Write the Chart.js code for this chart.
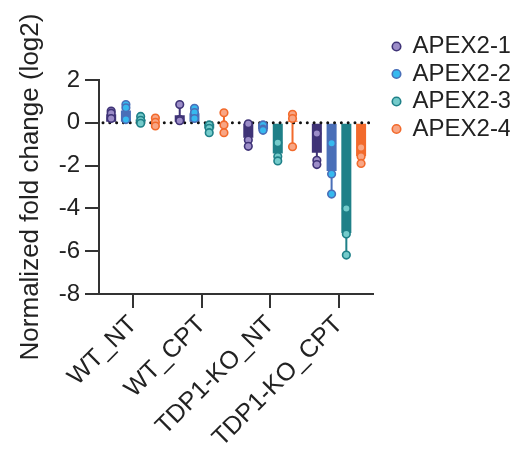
<!DOCTYPE html>
<html><head><meta charset="utf-8">
<script src="https://cdn.jsdelivr.net/npm/chart.js@4/dist/chart.umd.min.js"></script>
<style>html,body{margin:0;padding:0;background:#fff;}#wrap{width:517px;height:452px;}</style>
</head><body><div id="wrap"><canvas id="c" width="517" height="452"></canvas></div>
<script>
// ---- data ----
const categories = ['WT_NT', 'WT_CPT', 'TDP1-KO_NT', 'TDP1-KO_CPT'];
const seriesNames = ['APEX2-1', 'APEX2-2', 'APEX2-3', 'APEX2-4'];
const apex1Mean = [0.40, 0.35, -0.70, -1.40];
const apex2Mean = [0.57, 0.45, -0.30, -2.25];
const apex3Mean = [0.15, -0.27, -1.43, -5.15];
const apex4Mean = [0.05, -0.03, 0.10, -1.55];
const apex1Points = [[0.55, 0.45, 0.20], [0.85, 0.15, 0.10], [-0.05, -0.80, -1.10], [-0.50, -1.75, -1.95]];
const apex2Points = [[0.85, 0.70, 0.15], [0.68, 0.48, 0.20], [-0.10, -0.30, -0.35], [-0.96, -2.39, -3.33]];
const apex3Points = [[0.30, 0.12, -0.02], [-0.10, -0.26, -0.46], [-0.93, -1.58, -1.78], [-4.00, -5.20, -6.18]];
const apex4Points = [[0.22, 0.02, -0.15], [0.47, -0.10, -0.46], [0.40, 0.20, -1.12], [-1.15, -1.58, -1.90]];
const yTicks = [2, 0, -2, -4, -6, -8];

// ---- styles ----
const barColors = ['#3f3377', '#4a6fb8', '#1f8088', '#f26a2c'];
const pointFills = ['#9c8dc8', '#36b9ef', '#74cbcb', '#f8a685'];
const means = [apex1Mean, apex2Mean, apex3Mean, apex4Mean];
const points = [apex1Points, apex2Points, apex3Points, apex4Points];
const FONT = "'Liberation Sans', Arial, sans-serif";

const datasets = seriesNames.map((name, i) => ({
  label: name,
  data: means[i],
  backgroundColor: barColors[i],
  borderWidth: 0,
  pointsData: points[i],
  pointFill: pointFills[i],
  categoryPercentage: 0.86,
  barPercentage: 0.68
}));

const overlay = {
  id: 'overlay',
  afterDatasetsDraw(chart) {
    const ctx = chart.ctx, y = chart.scales.y, area = chart.chartArea;
    // error bars (range)
    chart.data.datasets.forEach((ds, i) => {
      const meta = chart.getDatasetMeta(i);
      meta.data.forEach((bar, j) => {
        const pts = ds.pointsData[j];
        const lo = Math.min(...pts, ds.data[j]), hi = Math.max(...pts, ds.data[j]);
        ctx.save();
        ctx.strokeStyle = ds.backgroundColor; ctx.lineWidth = 2;
        ctx.beginPath();
        ctx.moveTo(bar.x, y.getPixelForValue(lo)); ctx.lineTo(bar.x, y.getPixelForValue(hi));
        ctx.moveTo(bar.x - 3, y.getPixelForValue(lo)); ctx.lineTo(bar.x + 3, y.getPixelForValue(lo));
        ctx.moveTo(bar.x - 3, y.getPixelForValue(hi)); ctx.lineTo(bar.x + 3, y.getPixelForValue(hi));
        ctx.stroke(); ctx.restore();
      });
    });
    // dotted zero line
    const y0 = y.getPixelForValue(0);
    ctx.save();
    ctx.strokeStyle = '#111'; ctx.lineWidth = 3; ctx.lineCap = 'round';
    ctx.setLineDash([0.01, 6.8]);
    ctx.beginPath(); ctx.moveTo(area.left + 4, y0); ctx.lineTo(area.right, y0); ctx.stroke();
    ctx.restore();
    // replicate points
    chart.data.datasets.forEach((ds, i) => {
      const meta = chart.getDatasetMeta(i);
      meta.data.forEach((bar, j) => {
        ds.pointsData[j].forEach(v => {
          ctx.save();
          ctx.beginPath();
          ctx.arc(bar.x, y.getPixelForValue(v), 3.8, 0, Math.PI * 2);
          ctx.fillStyle = ds.pointFill; ctx.fill();
          ctx.lineWidth = 1.6; ctx.strokeStyle = ds.backgroundColor; ctx.stroke();
          ctx.restore();
        });
      });
    });
  }
};

const legendPlace = {
  id: 'legendPlace',
  afterLayout(chart) {
    const lg = chart.legend; if (!lg) return;
    const w = lg.width, h = lg.height;
    lg.left = 389; lg.top = 31; lg.right = lg.left + w; lg.bottom = lg.top + h;
  }
};

new Chart(document.getElementById('c'), {
  type: 'bar',
  data: { labels: categories, datasets },
  options: {
    responsive: false,
    animation: false,
    layout: { padding: { left: 11, top: 80, right: 23, bottom: 0 } },
    plugins: {
      tooltip: { enabled: false },
      legend: {
        position: 'right', align: 'start',
        labels: {
          usePointStyle: true, pointStyle: 'circle', boxWidth: 8, boxHeight: 6, padding: 3.5,
          color: '#222', font: { family: FONT, size: 24 },
          generateLabels(chart) {
            return chart.data.datasets.map((ds, i) => ({
              text: ds.label, fillStyle: ds.pointFill, strokeStyle: ds.backgroundColor,
              lineWidth: 1.6, pointStyle: 'circle', datasetIndex: i, fontColor: '#222', hidden: false
            }));
          }
        }
      }
    },
    scales: {
      x: {
        grid: { display: true, offset: false, drawOnChartArea: false, drawTicks: true, tickLength: 14, color: '#333', lineWidth: 2 },
        border: { color: '#333', width: 2 },
        ticks: { autoSkip: false, minRotation: 45, maxRotation: 45, padding: 2, color: '#222', font: { family: FONT, size: 25 } },
        afterFit(s) { s.height = 158; }
      },
      y: {
        min: -8, max: 2,
        afterBuildTicks(s) { s.ticks = yTicks.map(v => ({ value: v })); },
        grid: { display: true, drawOnChartArea: false, drawTicks: true, tickLength: 14, color: '#333', lineWidth: 2 },
        border: { color: '#333', width: 2 },
        ticks: { padding: 5, color: '#222', font: { family: FONT, size: 24 } },
        title: { display: true, text: 'Normalized fold change (log2)', color: '#222', font: { family: FONT, size: 26 }, padding: { top: 4, bottom: 4 } },
        afterFit(s) { s.width = 88; }
      }
    }
  },
  plugins: [overlay, legendPlace]
});
</script></body></html>
